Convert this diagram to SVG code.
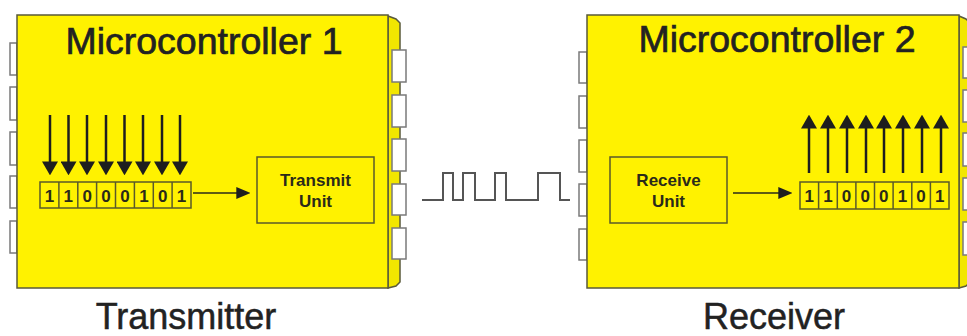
<svg xmlns="http://www.w3.org/2000/svg" width="967" height="336" viewBox="0 0 967 336">
<style>
.body{fill:#FFF200;stroke:#5a5a3a;stroke-width:1.5}
.side{fill:#F2E600;stroke:#5a5a3a;stroke-width:1.5}
.pin{fill:#ffffff;stroke:#7a7a7a;stroke-width:1.5}
.title{font-family:"Liberation Sans",Arial,sans-serif;font-size:37.5px;fill:#222;stroke:#222;stroke-width:0.7;text-anchor:middle}
.label{font-family:"Liberation Sans",Arial,sans-serif;font-size:36px;fill:#222;stroke:#222;stroke-width:0.5;text-anchor:middle}
.unit{fill:none;stroke:#5a5a2a;stroke-width:1.5}
.unitText{font-family:"Liberation Sans",Arial,sans-serif;font-size:17px;font-weight:bold;fill:#2a2a1a;text-anchor:middle}
.cell{fill:none;stroke:#5a5a2a;stroke-width:1.5}
.bit{font-family:"Liberation Sans",Arial,sans-serif;font-size:17px;font-weight:bold;fill:#2a2a1a;text-anchor:middle}
.par{stroke:#1e1e1e;stroke-width:2.5}
.flow{stroke:#2a2a1a;stroke-width:1.6}
.wave{fill:none;stroke:#555;stroke-width:2}
</style>
<defs>
<marker id="bigHead" markerUnits="userSpaceOnUse" markerWidth="14" markerHeight="16" viewBox="0 0 13 15" refX="8" refY="7.5" orient="auto">
<path d="M0,0 L13,7.5 L0,15 z" fill="#1e1e1e"/>
</marker>
<marker id="smallHead" markerUnits="userSpaceOnUse" markerWidth="14" markerHeight="12" viewBox="0 0 13 11" refX="9" refY="5.5" orient="auto">
<path d="M0,0 L13,5.5 L0,11 z" fill="#1e1e1e"/>
</marker>
</defs>

<g id="mcu1">
<rect class="pin" x="10" y="43" width="7" height="32"/>
<rect class="pin" x="10" y="87" width="7" height="33"/>
<rect class="pin" x="10" y="132" width="7" height="33"/>
<rect class="pin" x="10" y="176" width="7" height="32"/>
<rect class="pin" x="10" y="221" width="7" height="32"/>
<polygon class="side" points="388,16 396,19 400,23 400,282 396,286 388,288"/>
<rect class="body" x="17" y="15" width="371" height="273"/>
<rect class="pin" x="392" y="50" width="14" height="32"/>
<rect class="pin" x="392" y="95" width="14" height="32"/>
<rect class="pin" x="392" y="139" width="14" height="32"/>
<rect class="pin" x="392" y="184" width="14" height="31"/>
<rect class="pin" x="392" y="228" width="14" height="31"/>
<text class="title" x="204" y="54">Microcontroller 1</text>
</g>

<g id="reg1">
<rect class="cell" x="40" y="182" width="151" height="26"/>
<line class="cell" x1="58.9" y1="182" x2="58.9" y2="208"/>
<line class="cell" x1="77.8" y1="182" x2="77.8" y2="208"/>
<line class="cell" x1="96.6" y1="182" x2="96.6" y2="208"/>
<line class="cell" x1="115.5" y1="182" x2="115.5" y2="208"/>
<line class="cell" x1="134.4" y1="182" x2="134.4" y2="208"/>
<line class="cell" x1="153.3" y1="182" x2="153.3" y2="208"/>
<line class="cell" x1="172.1" y1="182" x2="172.1" y2="208"/>
<text class="bit" x="49.4" y="201.5">1</text>
<text class="bit" x="68.3" y="201.5">1</text>
<text class="bit" x="87.2" y="201.5">0</text>
<text class="bit" x="106.1" y="201.5">0</text>
<text class="bit" x="125" y="201.5">0</text>
<text class="bit" x="143.9" y="201.5">1</text>
<text class="bit" x="162.7" y="201.5">0</text>
<text class="bit" x="181.6" y="201.5">1</text>
</g>

<g id="tx">
<rect class="unit" x="257" y="157" width="117" height="66"/>
<text class="unitText" x="315.5" y="186">Transmit</text>
<text class="unitText" x="315.5" y="207">Unit</text>
</g>

<g id="mcu2">
<rect class="pin" x="579" y="52" width="8" height="31"/>
<rect class="pin" x="579" y="96" width="8" height="32"/>
<rect class="pin" x="579" y="140" width="8" height="32"/>
<rect class="pin" x="579" y="184" width="8" height="32"/>
<rect class="pin" x="579" y="229" width="8" height="31"/>
<polygon class="side" points="959,16 966,19 970,23 970,282 966,286 959,288"/>
<rect class="body" x="587" y="15" width="372" height="273"/>
<rect class="pin" x="963" y="47" width="14" height="31"/>
<rect class="pin" x="963" y="90" width="14" height="32"/>
<rect class="pin" x="963" y="133" width="14" height="33"/>
<rect class="pin" x="963" y="178" width="14" height="32"/>
<rect class="pin" x="963" y="222" width="14" height="33"/>
<text class="title" x="777" y="52">Microcontroller 2</text>
</g>

<g id="rx">
<rect class="unit" x="610" y="157" width="117" height="66"/>
<text class="unitText" x="668.5" y="186">Receive</text>
<text class="unitText" x="668.5" y="207">Unit</text>
</g>

<g id="reg2">
<rect class="cell" x="800" y="182" width="149" height="27"/>
<line class="cell" x1="818.6" y1="182" x2="818.6" y2="209"/>
<line class="cell" x1="837.3" y1="182" x2="837.3" y2="209"/>
<line class="cell" x1="855.9" y1="182" x2="855.9" y2="209"/>
<line class="cell" x1="874.5" y1="182" x2="874.5" y2="209"/>
<line class="cell" x1="893.1" y1="182" x2="893.1" y2="209"/>
<line class="cell" x1="911.8" y1="182" x2="911.8" y2="209"/>
<line class="cell" x1="930.4" y1="182" x2="930.4" y2="209"/>
<text class="bit" x="809.3" y="202">1</text>
<text class="bit" x="828" y="202">1</text>
<text class="bit" x="846.6" y="202">0</text>
<text class="bit" x="865.2" y="202">0</text>
<text class="bit" x="883.8" y="202">0</text>
<text class="bit" x="902.5" y="202">1</text>
<text class="bit" x="921.1" y="202">0</text>
<text class="bit" x="939.7" y="202">1</text>
</g>

<g id="connectors">
<line class="par" x1="50" y1="115" x2="50" y2="170" marker-end="url(#bigHead)"/>
<line class="par" x1="68.5" y1="115" x2="68.5" y2="170" marker-end="url(#bigHead)"/>
<line class="par" x1="87" y1="115" x2="87" y2="170" marker-end="url(#bigHead)"/>
<line class="par" x1="106" y1="115" x2="106" y2="170" marker-end="url(#bigHead)"/>
<line class="par" x1="124.5" y1="115" x2="124.5" y2="170" marker-end="url(#bigHead)"/>
<line class="par" x1="143" y1="115" x2="143" y2="170" marker-end="url(#bigHead)"/>
<line class="par" x1="162" y1="115" x2="162" y2="170" marker-end="url(#bigHead)"/>
<line class="par" x1="180" y1="115" x2="180" y2="170" marker-end="url(#bigHead)"/>
<line class="flow" x1="193" y1="193" x2="246" y2="193" marker-end="url(#smallHead)"/>
<polyline class="wave" points="422,200 443,200 443,173 453,173 453,200 463,200 463,173 475,173 475,200 495,200 495,173 506,173 506,200 538,200 538,173 560,173 560,200 570,200"/>
<line class="flow" x1="733" y1="193" x2="788" y2="193" marker-end="url(#smallHead)"/>
<line class="par" x1="809" y1="173" x2="809" y2="120" marker-end="url(#bigHead)"/>
<line class="par" x1="828" y1="173" x2="828" y2="120" marker-end="url(#bigHead)"/>
<line class="par" x1="847" y1="173" x2="847" y2="120" marker-end="url(#bigHead)"/>
<line class="par" x1="866" y1="173" x2="866" y2="120" marker-end="url(#bigHead)"/>
<line class="par" x1="884" y1="173" x2="884" y2="120" marker-end="url(#bigHead)"/>
<line class="par" x1="903" y1="173" x2="903" y2="120" marker-end="url(#bigHead)"/>
<line class="par" x1="922" y1="173" x2="922" y2="120" marker-end="url(#bigHead)"/>
<line class="par" x1="941" y1="173" x2="941" y2="120" marker-end="url(#bigHead)"/>
</g>

<text class="label" x="186" y="329">Transmitter</text>
<text class="label" x="774" y="329">Receiver</text>
</svg>
